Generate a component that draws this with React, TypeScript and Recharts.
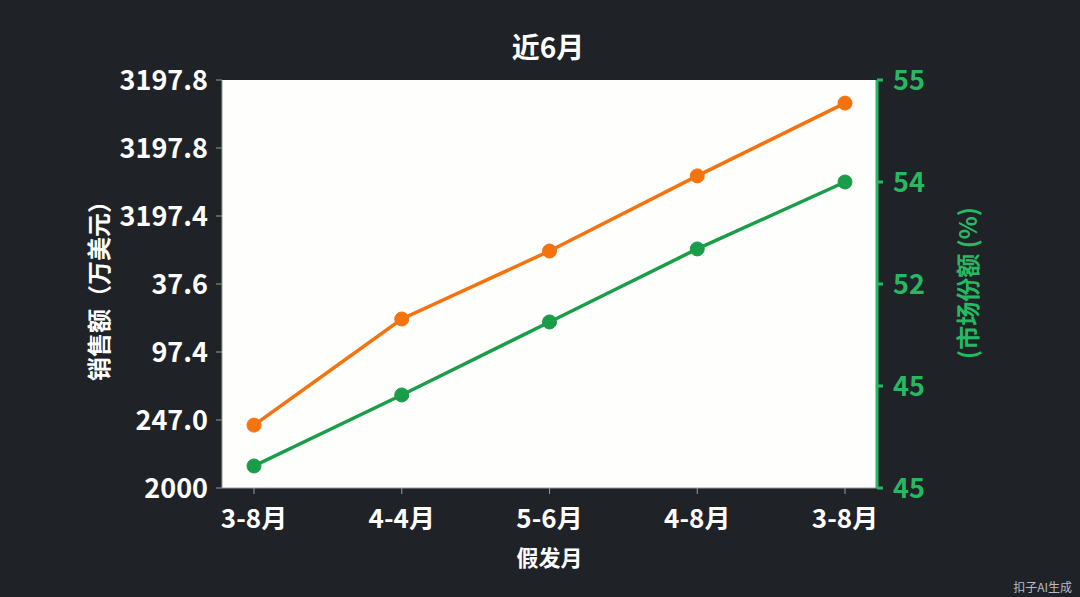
import React from 'react';
import {
  CartesianGrid,
  Label,
  Line,
  LineChart,
  XAxis,
  YAxis,
} from 'recharts';

// x categories (as printed)
const months = ['3-8月', '4-4月', '5-6月', '4-8月', '3-8月'];
// 销售额 (万美元)
const sales = [2185, 2497, 2697, 2918, 3132];
// 市场份额 (%)
const share = [45.54, 47.28, 49.07, 50.86, 52.5];

// axis ticks and the labels printed on them (bottom to top)
const leftTicks = [2000, 2200, 2400, 2600, 2800, 3000, 3200];
const leftTickLabels = ['2000', '247.0', '97.4', '37.6', '3197.4', '3197.8', '3197.8'];
const rightTicks = [45, 47.5, 50, 52.5, 55];
const rightTickLabels = ['45', '45', '52', '54', '55'];

const data = months.map((m, i) => ({ month: m, sales: sales[i], share: share[i] }));

const BG = '#1f2227';
const ORANGE = '#f5730f';
const GREEN = '#1a9d48';
const GREEN_TEXT = '#27b862';
const FONT = '"Noto Sans CJK SC", "Noto Sans", sans-serif';

function RotatedTitle({ x, y, text, fill }: { x: number; y: number; text: string; fill: string }) {
  return (
    <text
      x={x}
      y={y}
      transform={`rotate(-90 ${x} ${y})`}
      textAnchor="middle"
      dominantBaseline="central"
      fill={fill}
      fontSize={24}
      fontWeight={700}
      fontFamily={FONT}
    >
      {text}
    </text>
  );
}

export default function App() {
  return (
    <div
      style={{
        position: 'absolute',
        left: 0,
        top: 0,
        width: 1080,
        height: 597,
        background: BG,
        fontFamily: FONT,
      }}
    >
      <div
        style={{
          position: 'absolute',
          top: 26,
          left: 0,
          width: 1096,
          textAlign: 'center',
          color: '#ffffff',
          fontSize: 28,
          fontWeight: 700,
          lineHeight: '40px',
        }}
      >
        近6月
      </div>
      <LineChart
        width={1080}
        height={597}
        data={data}
        margin={{ top: 80, right: 0, bottom: 0, left: 0 }}
      >
        <CartesianGrid fill="#fefefc" stroke="none" horizontal={false} vertical={false} />
        <XAxis
          dataKey="month"
          height={109}
          padding={{ left: 32, right: 32 }}
          stroke="#9a9a9a"
          tickSize={6}
          tickMargin={16}
          tick={{ fill: '#ffffff', fontSize: 26, fontWeight: 700, fontFamily: FONT }}
        >
          <Label
            value="假发月"
            position="insideBottom"
            offset={31}
            fill="#ffffff"
            fontSize={22}
            fontWeight={700}
            fontFamily={FONT}
          />
        </XAxis>
        <YAxis
          yAxisId="left"
          width={222}
          domain={[2000, 3200]}
          ticks={leftTicks}
          tickFormatter={(v: number) => leftTickLabels[leftTicks.indexOf(v)]}
          stroke="#9a9a9a"
          tickSize={6}
          tickMargin={8}
          tick={{ fill: '#ffffff', fontSize: 27, fontWeight: 700, fontFamily: FONT }}
        >
          <Label content={() => <RotatedTitle x={97} y={285} text="销售额（万美元）" fill="#ffffff" />} />
        </YAxis>
        <YAxis
          yAxisId="right"
          orientation="right"
          width={203}
          domain={[45, 55]}
          ticks={rightTicks}
          tickFormatter={(v: number) => rightTickLabels[rightTicks.indexOf(v)]}
          stroke={GREEN_TEXT}
          strokeWidth={3}
          tickSize={6}
          tickMargin={10}
          tick={{ fill: GREEN_TEXT, fontSize: 27, fontWeight: 700, fontFamily: FONT }}
        >
          <Label content={() => <RotatedTitle x={966} y={283} text="(市场份额 (%)" fill={GREEN_TEXT} />} />
        </YAxis>
        <Line
          yAxisId="left"
          dataKey="sales"
          stroke={ORANGE}
          strokeWidth={3.5}
          dot={{ r: 7, fill: ORANGE, stroke: ORANGE, strokeWidth: 1 }}
          activeDot={false}
          isAnimationActive={false}
        />
        <Line
          yAxisId="right"
          dataKey="share"
          stroke={GREEN}
          strokeWidth={3.5}
          dot={{ r: 7, fill: GREEN, stroke: GREEN, strokeWidth: 1 }}
          activeDot={false}
          isAnimationActive={false}
        />
      </LineChart>
      <div
        style={{
          position: 'absolute',
          right: 8,
          bottom: 2,
          color: '#b8bcc2',
          fontSize: 12,
        }}
      >
        扣子AI生成
      </div>
    </div>
  );
}
